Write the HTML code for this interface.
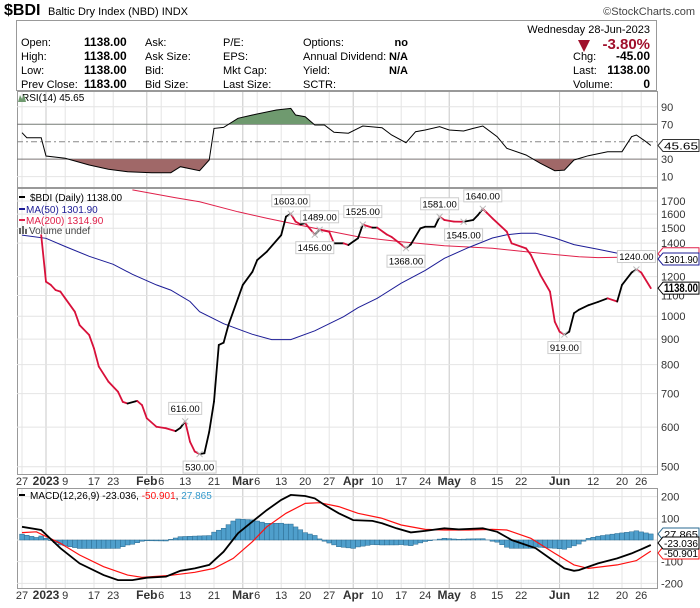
<!DOCTYPE html>
<html><head><meta charset="utf-8"><style>
body{margin:0;background:#fff;font-family:"Liberation Sans",sans-serif;}
svg text{font-family:"Liberation Sans",sans-serif;}
</style></head><body>
<svg id="c" width="700" height="603" viewBox="0 0 700 603" xmlns="http://www.w3.org/2000/svg">
<rect width="700" height="603" fill="#fff"/>
<g font-size="11">
<text x="4" y="15" font-size="16" font-weight="bold">$BDI</text>
<text x="48" y="15" font-size="11">Baltic Dry Index (NBD)  INDX</text>
<text x="695" y="15" text-anchor="end" fill="#444">©StockCharts.com</text>
<rect x="16.5" y="20.5" width="640" height="70" fill="none" stroke="#999"/>
<text x="650" y="33" text-anchor="end" font-size="11">Wednesday  28-Jun-2023</text>
<g>
<text x="21" y="46">Open:</text><text x="21" y="60">High:</text><text x="21" y="74">Low:</text><text x="21" y="88">Prev Close:</text>
<text x="84" y="46" font-weight="bold" font-size="12">1138.00</text><text x="84" y="60" font-weight="bold" font-size="12">1138.00</text><text x="84" y="74" font-weight="bold" font-size="12">1138.00</text><text x="84" y="88" font-weight="bold" font-size="12">1183.00</text>
<text x="145" y="46">Ask:</text><text x="145" y="60">Ask Size:</text><text x="145" y="74">Bid:</text><text x="145" y="88">Bid Size:</text>
<text x="223" y="46">P/E:</text><text x="223" y="60">EPS:</text><text x="223" y="74">Mkt Cap:</text><text x="223" y="88">Last Size:</text>
<text x="303" y="46">Options:</text><text x="303" y="60">Annual Dividend:</text><text x="303" y="74">Yield:</text><text x="303" y="88">SCTR:</text>
<text x="408" y="46" text-anchor="end" font-weight="bold">no</text><text x="408" y="60" text-anchor="end" font-weight="bold">N/A</text><text x="408" y="74" text-anchor="end" font-weight="bold">N/A</text>
<text x="573" y="60">Chg:</text><text x="573" y="74">Last:</text><text x="573" y="88">Volume:</text>
<text x="650" y="60" text-anchor="end" font-weight="bold" font-size="12">-45.00</text><text x="650" y="74" text-anchor="end" font-weight="bold" font-size="12">1138.00</text><text x="650" y="88" text-anchor="end" font-weight="bold" font-size="12">0</text>
</g>
<polygon points="578,40 590,40 584,52" fill="#a0102c"/>
<text x="650" y="49" text-anchor="end" font-size="15" font-weight="bold" fill="#a0102c">-3.80%</text>
</g>
<g id="grid"></g>
<g id="marks"></g>
</svg>
<script>
const xTickIdx=[0,5,9,15,19,26,29,34,40,46,49,54,59,64,69,74,79,84,89,94,99,104,112,119,125,129];
const xTickLbl=["27","2023","9","17","23","Feb","6","13","21","Mar","6","13","20","27","Apr","10","17","24","May","8","15","22","Jun","12","20","26"];
const xTickBold=["2023","Feb","Mar","Apr","May","Jun"];
const priceIdx=[4,5,6,7,8,9,11,12,14,15,16,18,20,21,22,24,25,26,28,30,32,33,34,35,36,37,38,39,40,41,42,43,45,46,48,49,51,54,55,56,57,58,59,61,62,64,65,67,68,70,71,73,74,76,77,80,81,83,84,86,87,88,90,92,94,95,96,98,101,102,105,106,108,110,111,112,113,114,115,116,118,120,122,124,125,127,128,129,131];
const priceVal=[1453,1172,1155,1128,1120,1086,1021,960,917,862,793,740,706,674,669,677,664,625,601,597,589,598,616,561,536,530,532,587,675,876,885,960,1086,1155,1227,1295,1346,1453,1582,1603,1546,1527,1535,1456,1489,1476,1399,1399,1388,1432,1525,1504,1504,1457,1441,1368,1392,1499,1510,1510,1581,1558,1546,1545,1558,1594,1640,1570,1476,1399,1367,1327,1209,1120,975,931,919,931,1014,1030,1052,1068,1086,1070,1155,1223,1240,1223,1138];
const ma50Idx=[0,5,9,14,19,23,28,31,35,37,42,46,48,52,56,61,67,70,74,79,84,88,93,98,101,104,107,111,115,120,125,131];
const ma50Val=[1453,1432,1379,1318,1270,1213,1155,1128,1070,1021,966,935,920,898,898,935,998,1040,1086,1164,1235,1306,1372,1434,1455,1466,1466,1434,1391,1361,1331,1302];
const ma200Idx=[23,32,37,45,51,61,70,79,88,98,107,116,120,131];
const ma200Val=[1789,1726,1694,1618,1570,1499,1442,1409,1384,1367,1340,1315,1310,1315];
const annIdx=[56,62,61,71,80,87,92,96,128,113,34,37];
const annVal=[1603,1489,1456,1525,1368,1581,1545,1640,1240,919,616,530];
const annUp=[1,1,0,1,0,1,0,1,1,0,1,0];
const priceTicks=[500,600,700,800,900,1000,1100,1200,1400,1500,1600,1700];
const rsiIdx=[0,1,4,5,9,14,18,22,27,31,33,37,39,40,42,45,48,53,56,57,59,61,63,65,68,71,75,77,80,82,84,87,89,92,94,96,99,101,105,108,111,113,115,118,122,125,127,128,130,131];
const rsiVal=[60.3,54.6,54.6,33.6,31,23.3,18.4,15.6,14.5,14.5,21.3,16.8,29,65.3,66.4,76.8,80.6,86.3,88.2,80.6,78.7,69.1,69.1,60.8,59.7,68,66.1,57.7,48.9,61.5,63.4,67.2,63.4,62.3,65.3,68,55.7,42.4,34.8,25.2,16.8,17.5,29,34,38.5,38.5,55.7,57.7,50,45.65];
const rsiTicks=[10,30,50,70,90];
const macdIdx=[0,4,8,12,17,20,23,26,30,33,36,39,42,45,48,51,54,56,59,61,63,66,69,73,75,78,81,84,88,91,96,99,102,107,110,113,115,116,120,124,127,129,131];
const macdVal=[61,46,-38,-108,-162,-185,-185,-174,-169,-142,-131,-115,-54,31,85,138,185,208,203,192,162,123,92,88,77,54,35,42,54,49,54,38,0,-38,-85,-131,-142,-139,-108,-85,-62,-43,-23];
const sigIdx=[0,3,8,12,17,22,25,31,36,40,44,48,51,55,59,62,66,70,75,79,84,88,93,98,101,106,111,115,118,124,128,131];
const sigVal=[34,38,-15,-69,-123,-162,-172,-163,-149,-131,-85,-8,61,123,169,172,154,123,100,69,49,46,46,49,46,8,-62,-115,-131,-115,-95,-51];
const macdTicks=[-200,-100,0,100,200];

const NS="http://www.w3.org/2000/svg";
const X0=17,X1=657;
const xOf=i=>22+i*4.8;
const yP=v=>466.7-217.1*Math.log(v/500);
const yR=r=>141.7-(r-50)*0.8725;
const yM=m=>540-m*0.2167;
const grid=document.getElementById('grid'),marks=document.getElementById('marks');
function mk(tag,at,parent){const e=document.createElementNS(NS,tag);for(const k in at)e.setAttribute(k,at[k]);(parent||marks).appendChild(e);return e;}
function txt(x,y,s,at,parent){const e=mk('text',Object.assign({x:x,y:y},at),parent);e.textContent=s;return e;}
const panels=[[91,187],[188,474],[488,588]];
panels.forEach(p=>{
  xTickIdx.forEach((t,k)=>{const l=mk('line',{x1:xOf(t),x2:xOf(t),y1:p[0],y2:p[1],stroke:xTickBold.includes(xTickLbl[k])?'#c8c8c8':'#e4e4e4','stroke-width':1},grid);
  
  });
  const r=mk('rect',{x:X0+.5,y:p[0]+.5,width:X1-X0,height:p[1]-p[0],fill:'none',stroke:'#999'},grid);
  
  
});
[[474,485],[588,599]].forEach(p=>{xTickIdx.forEach((t,k)=>{const b=xTickBold.includes(xTickLbl[k]);
  const e=txt(xOf(t),p[1],xTickLbl[k],{'text-anchor':'middle','font-size':b?12:11,'font-weight':b?'bold':'normal',fill:'#333'});
  
  });});
priceTicks.forEach(v=>{const l=mk('line',{x1:X0,x2:X1,y1:yP(v),y2:yP(v),stroke:'#e4e4e4'},grid);
  
  
  const e=txt(661,yP(v)+4,String(v),{'font-size':11,fill:'#333'});
  
  });
rsiTicks.forEach(v=>{const strong=v==30||v==70;const l=mk('line',{x1:X0,x2:X1,y1:yR(v),y2:yR(v),stroke:strong?'#777':(v==50?'#888':'#e4e4e4'),'stroke-dasharray':v==50?'6,3,2,3':'none'},grid);
  
  
  if(v!=50){const e=txt(661,yR(v)+4,String(v),{'font-size':11,fill:'#333'});
  
  }});
macdTicks.forEach(v=>{const l=mk('line',{x1:X0,x2:X1,y1:yM(v),y2:yM(v),stroke:'#e4e4e4'},grid);
  
  
  if(v!=0){const e=txt(661,yM(v)+4,String(v),{'font-size':11,fill:'#333'});
  
  }});
const pts=(I,V,f)=>I.map((i,k)=>xOf(i).toFixed(1)+','+f(V[k]).toFixed(1)).join(' ');
const defs=mk('defs',{});
const c1=mk('clipPath',{id:'above70'},defs);mk('rect',{x:X0,y:91,width:X1-X0,height:yR(70)-91},c1);
const c2=mk('clipPath',{id:'below30'},defs);mk('rect',{x:X0,y:yR(30),width:X1-X0,height:187-yR(30)},c2);
const rp=pts(rsiIdx,rsiVal,yR);
const f1=mk('polygon',{points:rp+' '+xOf(rsiIdx[rsiIdx.length-1])+','+yR(70)+' '+xOf(rsiIdx[0])+','+yR(70),fill:'#6f9a6f','clip-path':'url(#above70)'});


const f2=mk('polygon',{points:rp+' '+xOf(rsiIdx[rsiIdx.length-1])+','+yR(30)+' '+xOf(rsiIdx[0])+','+yR(30),fill:'#a06868','clip-path':'url(#below30)'});


const rl=mk('polyline',{points:rp,fill:'none',stroke:'#000','stroke-width':1});


const pc=mk('clipPath',{id:'mainclip'},defs);mk('rect',{x:X0,y:188,width:X1-X0,height:286},pc);
const m2=mk('polyline',{points:pts(ma200Idx,ma200Val,yP),fill:'none',stroke:'#e0204a','stroke-width':1,'clip-path':'url(#mainclip)'});


const m5=mk('polyline',{points:pts(ma50Idx,ma50Val,yP),fill:'none',stroke:'#1c1c96','stroke-width':1});


const pg=mk('g',{'clip-path':'url(#mainclip)'});


for(let k=0;k<priceIdx.length-1;k++){const up=priceVal[k+1]>=priceVal[k];
  const s=mk('line',{x1:xOf(priceIdx[k]),y1:yP(priceVal[k]),x2:xOf(priceIdx[k+1]),y2:yP(priceVal[k+1]),stroke:up?'#000':'#d8103a','stroke-width':1.8,'stroke-linecap':'round'},pg);
  
  }
annIdx.forEach((i,k)=>{const x=xOf(i),y=yP(annVal[k]);const ty=annUp[k]?y-13:y+13;
  const g=mk('g',{});
  
  
  mk('path',{d:`M${x-3},${y-3}L${x+3},${y+3}M${x-3},${y+3}L${x+3},${y-3}`,stroke:'#bbb','stroke-width':1},g);
  const s=annVal[k].toFixed(2);const w=s.length*5+3;
  mk('rect',{x:x-w/2,y:ty-6,width:w,height:12,fill:'#fff',stroke:'#ccc'},g);
  txt(x,ty+3.5,s,{'text-anchor':'middle','font-size':9.5},g);});
function interp(I,V,i){if(i<=I[0])return V[0];for(let k=1;k<I.length;k++)if(i<=I[k]){const f=(i-I[k-1])/(I[k]-I[k-1]);return V[k-1]+f*(V[k]-V[k-1]);}return V[V.length-1];}
for(let i=0;i<=131;i++){const h=interp(macdIdx,macdVal,i)-interp(sigIdx,sigVal,i);
  const y0=yM(0),y1=yM(h);
  const b=mk('rect',{x:xOf(i)-2.4,y:Math.min(y0,y1),width:4.8,height:Math.abs(y1-y0),fill:'#4f9fcc',stroke:'#2a6a90','stroke-width':.5});
  
  }
const sl=mk('polyline',{points:pts(sigIdx,sigVal,yM),fill:'none',stroke:'#ff1010','stroke-width':1.2});


const ml=mk('polyline',{points:pts(macdIdx,macdVal,yM),fill:'none',stroke:'#000','stroke-width':1.8});


function tag(y,s,col,bold,name){const g=mk('g',{});
  
  
  mk('path',{d:`M658,${y} L663,${y-6} L699,${y-6} L699,${y+6} L663,${y+6} Z`,fill:'#fff',stroke:col},g);
  if(s){const t=txt(664,y+4,s,{'font-size':bold?11.5:10.5,'font-weight':bold?'bold':'normal',textLength:34,lengthAdjust:'spacingAndGlyphs'},g);}}
tag(yR(45.65),'45.65','#333',false,'rsi-value-tag');
tag(yP(1314.9)-3,'','#e0204a',false,'ma200-value-tag');
tag(yP(1301.9),'1301.90','#1c1c96',false,'ma50-value-tag');
tag(yP(1138),'1138.00','#000',true,'price-value-tag');
tag(yM(-50.9)+2,'-50.901','#ff1010',false,'signal-value-tag');
tag(yM(27.865),'27.865','#2a6a90',false,'histogram-value-tag');
tag(yM(-23.036)-2,'-23.036','#000',false,'macd-value-tag');
const lg=mk('g',{'font-size':10});


txt(22,101,'RSI(14) 45.65',{'font-family':'DejaVu Sans','font-size':10},lg);
mk('path',{d:'M18,102 L20,95 L22,99 L24,94 L26,102Z',fill:'#6f9a6f'},lg);
mk('rect',{x:19,y:196,width:6,height:2,fill:'#000'},lg);
txt(30,201,'$BDI (Daily) 1138.00',{'font-family':'DejaVu Sans','font-size':10},lg);
mk('rect',{x:19,y:208,width:6,height:2,fill:'#1c1c96'},lg);
txt(26,213,'MA(50) 1301.90',{fill:'#1c1c96'},lg);
mk('rect',{x:19,y:219,width:6,height:2,fill:'#e0204a'},lg);
txt(26,224,'MA(200) 1314.90',{fill:'#e0204a'},lg);
mk('path',{d:'M19,234h2v-6h-2zM22,234h2v-8h-2zM25,234h2v-5h-2z',fill:'#666'},lg);
txt(29,234,'Volume undef',{fill:'#444'},lg);
mk('rect',{x:19,y:494,width:6,height:2,fill:'#000'},lg);
const mt=txt(30,499,'',{'font-family':'DejaVu Sans','font-size':10},lg);
mt.innerHTML='<tspan>MACD(12,26,9) -23.036, </tspan><tspan fill="#ff1010">-50.901</tspan><tspan>, </tspan><tspan fill="#3399cc">27.865</tspan>';
</script>
</body></html>
